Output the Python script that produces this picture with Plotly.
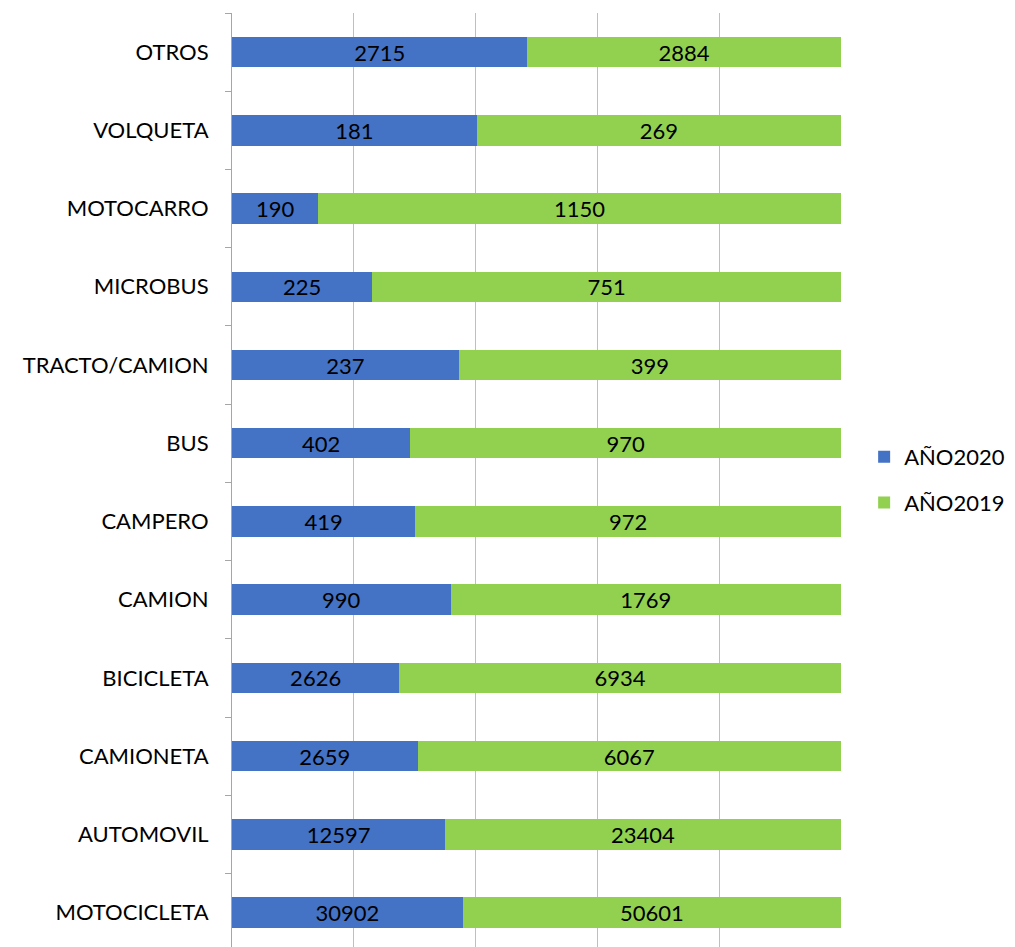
import plotly.graph_objects as go

categories = ["MOTOCICLETA", "AUTOMOVIL", "CAMIONETA", "BICICLETA", "CAMION", "CAMPERO",
              "BUS", "TRACTO/CAMION", "MICROBUS", "MOTOCARRO", "VOLQUETA", "OTROS"]
y2020 = [30902, 12597, 2659, 2626, 990, 419, 402, 237, 225, 190, 181, 2715]
y2019 = [50601, 23404, 6067, 6934, 1769, 972, 970, 399, 751, 1150, 269, 2884]

FONT = "Lato, Carlito, Calibri, sans-serif"

fig = go.Figure()
fig.add_trace(go.Bar(
    y=categories, x=y2020, name="AÑO2020", orientation="h", legendgroup="a",
    marker=dict(color="#4472C4", line=dict(width=0)),
    text=[str(v) for v in y2020], textposition="inside", insidetextanchor="middle",
    textfont=dict(family=FONT, size=22, color="black"), hoverinfo="x+y",
))
fig.add_trace(go.Bar(
    y=categories, x=y2019, name="AÑO2019", orientation="h", legendgroup="b",
    marker=dict(color="#92D050", line=dict(width=0)),
    text=[str(v) for v in y2019], textposition="inside", insidetextanchor="middle",
    textfont=dict(family=FONT, size=22, color="black"), hoverinfo="x+y",
))

fig.update_layout(
    width=1015, height=947,
    margin=dict(l=224, r=182, t=5, b=8, pad=0),
    barmode="stack", barnorm="percent", bargap=0.61,
    plot_bgcolor="white", paper_bgcolor="white",
    font=dict(family=FONT, size=22, color="black"),
    uniformtext=dict(minsize=22, mode="show"),
    legend=dict(x=1.038, y=0.5, xanchor="left", yanchor="middle", traceorder="grouped",
                font=dict(family=FONT, size=22, color="black"), itemwidth=30,
                tracegroupgap=14, bgcolor="rgba(0,0,0,0)"),
    showlegend=True,
)
fig.update_xaxes(range=[0, 100], dtick=20, showticklabels=False, showgrid=True,
                 gridcolor="#BFBFBF", gridwidth=1, zeroline=False, showline=False)
fig.update_yaxes(type="category", range=[-0.44, 11.5], tickson="boundaries",
                 ticks="outside", ticklen=6, tickcolor="#A6A6A6", showline=True,
                 linecolor="#A6A6A6", linewidth=1, showgrid=False,
                 ticklabelstandoff=18,
                 tickfont=dict(family=FONT, size=22, color="black"))

fig.write_html("out.html")
